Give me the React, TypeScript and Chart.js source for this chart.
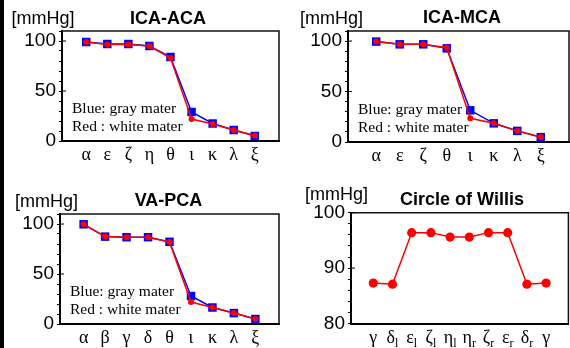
import React, { useEffect, useRef } from 'react';
import { Chart, registerables } from 'chart.js';

Chart.register(...registerables);

// ---------- data ----------
const acaLabels = ['α', 'ε', 'ζ', 'η', 'θ', 'ι', 'κ', 'λ', 'ξ'];
const acaGray = [99, 97, 97, 95, 84, 29, 17.5, 11, 5];
const acaWhite = [99, 96.5, 96.5, 95, 83, 22, 17, 11, 5.5];

const mcaLabels = ['α', 'ε', 'ζ', 'θ', 'ι', 'κ', 'λ', 'ξ'];
const mcaGray = [99.5, 96.8, 96.8, 92.8, 31.4, 18.5, 11, 4.8];
const mcaWhite = [99.5, 96.8, 96.8, 93.5, 23.5, 18.5, 11, 5];

const pcaLabels = ['α', 'β', 'γ', 'δ', 'θ', 'ι', 'κ', 'λ', 'ξ'];
const pcaGray = [99.7, 87.4, 86.8, 86.8, 82.2, 28, 16.5, 10.9, 5];
const pcaWhite = [99.7, 87.4, 86.8, 86.8, 82, 22, 16.5, 10.9, 5];

const willisLabels = ['γ', 'δ_l', 'ε_l', 'ζ_l', 'η_l', 'η_r', 'ζ_r', 'ε_r', 'δ_r', 'γ'];
const willisValues = [87.3, 87.1, 96.4, 96.4, 95.6, 95.6, 96.4, 96.4, 87.1, 87.3];

const pressureMajorTicks = [0, 50, 100];
const willisMajorTicks = [80, 90, 100];

const legendLines = ['Blue: gray mater', 'Red : white mater'];

const SANS = '"Liberation Sans", Arial, sans-serif';
const SERIF = '"Liberation Serif", "Times New Roman", serif';

type PanelCfg = {
  left: number; top: number; width: number; height: number;
  yw: number; xh: number; padTop: number; padRight: number;
  xMin: number; xMax: number; yMin: number; yMax: number; yStep: number;
  majors: number[];
  labels: string[];
  series: { values: number[]; kind: 'gray' | 'white' | 'willis' }[];
  title: string; titleX: number; titleY: number;
  unitX: number; unitY: number;
  legend: boolean;
  subscriptLabels: boolean;
};

const toPoints = (vals: number[]) => vals.map((v, i) => ({ x: i, y: v }));

function Panel({ cfg }: { cfg: PanelCfg }) {
  const ref = useRef<HTMLCanvasElement | null>(null);
  useEffect(() => {
    if (!ref.current) return;
    const datasets: any[] = [];
    // red drawn on top -> put first
    const ordered = [...cfg.series].sort((a, b) => (a.kind === 'gray' ? 1 : 0) - (b.kind === 'gray' ? 1 : 0));
    ordered.forEach((s) => {
      if (s.kind === 'gray') {
        datasets.push({
          data: toPoints(s.values), borderColor: '#0000ff', backgroundColor: '#0000ff',
          borderWidth: 1.5, pointStyle: 'rect', pointRadius: 6, pointBorderWidth: 0, tension: 0,
        });
      } else if (s.kind === 'white') {
        datasets.push({
          data: toPoints(s.values), borderColor: '#ff0000', backgroundColor: '#ff0000',
          borderWidth: 1.5, pointStyle: 'circle', pointRadius: 3, pointBorderWidth: 0, tension: 0,
        });
      } else {
        datasets.push({
          data: toPoints(s.values), borderColor: '#ff0000', backgroundColor: '#ff0000',
          borderWidth: 1.5, pointStyle: 'circle', pointRadius: 4.6, pointBorderWidth: 0, tension: 0,
        });
      }
    });

    const decor = {
      id: 'decor',
      afterDraw(chart: any) {
        const ctx = chart.ctx;
        const a = chart.chartArea;
        const ys = chart.scales.y;
        const xs = chart.scales.x;
        ctx.save();
        // top & right frame
        ctx.strokeStyle = '#111';
        ctx.lineWidth = 1.5;
        ctx.beginPath();
        ctx.moveTo(a.left, a.top);
        ctx.lineTo(a.right, a.top);
        ctx.lineTo(a.right, a.bottom);
        ctx.stroke();
        // inward part of major ticks
        ctx.lineWidth = 1;
        ctx.strokeStyle = '#000';
        cfg.majors.forEach((m) => {
          const py = ys.getPixelForValue(m);
          ctx.beginPath();
          ctx.moveTo(a.left, py);
          ctx.lineTo(a.left + 4, py);
          ctx.stroke();
        });
        // unit label and title
        ctx.fillStyle = '#000';
        ctx.textBaseline = 'alphabetic';
        ctx.textAlign = 'left';
        ctx.font = `18px ${SANS}`;
        ctx.fillText('[mmHg]', cfg.unitX, cfg.unitY);
        ctx.textAlign = 'center';
        ctx.font = `bold 18px ${SANS}`;
        ctx.fillText(cfg.title, cfg.titleX, cfg.titleY);
        // legend text
        if (cfg.legend) {
          ctx.textAlign = 'left';
          ctx.font = `15.5px ${SERIF}`;
          ctx.fillText(legendLines[0], a.left + 10, a.bottom - 28);
          ctx.fillText(legendLines[1], a.left + 10, a.bottom - 10);
        }
        // subscripted category labels
        if (cfg.subscriptLabels) {
          cfg.labels.forEach((lab, i) => {
            const [main, sub] = lab.split('_');
            const px = xs.getPixelForValue(i);
            ctx.font = `18px ${SERIF}`;
            const wMain = ctx.measureText(main).width;
            ctx.font = `12px ${SERIF}`;
            const wSub = sub ? ctx.measureText(sub).width : 0;
            const start = px - (wMain + wSub) / 2;
            ctx.textAlign = 'left';
            ctx.font = `18px ${SERIF}`;
            ctx.fillText(main, start, a.bottom + 19);
            if (sub) {
              ctx.font = `12px ${SERIF}`;
              ctx.fillText(sub, start + wMain, a.bottom + 23);
            }
          });
        }
        ctx.restore();
      },
    };

    const chart = new Chart(ref.current, {
      type: 'line',
      data: { datasets },
      plugins: [decor],
      options: {
        animation: false,
        responsive: false,
        maintainAspectRatio: false,
        devicePixelRatio: 1,
        layout: { padding: { top: cfg.padTop, right: cfg.padRight, left: 0, bottom: 0 } },
        plugins: { legend: { display: false }, title: { display: false }, tooltip: { enabled: false } },
        scales: {
          x: {
            type: 'linear',
            min: cfg.xMin,
            max: cfg.xMax,
            afterBuildTicks: (s: any) => { s.ticks = cfg.labels.map((_, i) => ({ value: i })); },
            afterFit: (s: any) => { s.height = cfg.xh; },
            ticks: {
              display: true,
              autoSkip: false,
              maxRotation: 0,
              padding: 3,
              color: cfg.subscriptLabels ? 'rgba(0,0,0,0)' : '#000',
              font: { family: SERIF, size: 18 },
              callback: (v: any) => cfg.labels[v as number] ?? '',
            },
            grid: { display: true, drawOnChartArea: false, drawTicks: false },
            border: { display: true, color: '#000', width: 2 },
          },
          y: {
            type: 'linear',
            min: cfg.yMin,
            max: cfg.yMax,
            afterFit: (s: any) => { s.width = cfg.yw; },
            ticks: {
              stepSize: cfg.yStep,
              autoSkip: false,
              padding: 3,
              color: '#000',
              font: { family: SANS, size: 19 },
              callback: (v: any) => (cfg.majors.includes(v as number) ? String(v) : ''),
            },
            grid: {
              display: true, drawOnChartArea: false, drawTicks: true, tickLength: 3,
              tickColor: '#000', tickWidth: 1,
            },
            border: { display: true, color: '#000', width: 2 },
          },
        },
      },
    } as any);
    return () => chart.destroy();
  }, [cfg]);
  return (
    <canvas
      ref={ref}
      width={cfg.width}
      height={cfg.height}
      style={{ position: 'absolute', left: cfg.left, top: cfg.top, width: cfg.width, height: cfg.height }}
    />
  );
}

const panels: PanelCfg[] = [
  {
    left: 0, top: 0, width: 285, height: 174, yw: 62, xh: 33, padTop: 31, padRight: 1,
    xMin: -1.15, xMax: 9.15, yMin: 0, yMax: 110, yStep: 10, majors: pressureMajorTicks,
    labels: acaLabels, series: [{ values: acaGray, kind: 'gray' }, { values: acaWhite, kind: 'white' }],
    title: 'ICA-ACA', titleX: 168, titleY: 23.5, unitX: 11.5, unitY: 24, legend: true, subscriptLabels: false,
  },
  {
    left: 285, top: 0, width: 290, height: 174, yw: 63, xh: 32, padTop: 31, padRight: 1,
    xMin: -1.2, xMax: 8.2, yMin: 0, yMax: 110, yStep: 10, majors: pressureMajorTicks,
    labels: mcaLabels, series: [{ values: mcaGray, kind: 'gray' }, { values: mcaWhite, kind: 'white' }],
    title: 'ICA-MCA', titleX: 177, titleY: 23, unitX: 15, unitY: 23.5, legend: true, subscriptLabels: false,
  },
  {
    left: 0, top: 174, width: 285, height: 174, yw: 60, xh: 24, padTop: 40, padRight: 6,
    xMin: -1.1, xMax: 9.1, yMin: 0, yMax: 110, yStep: 10, majors: pressureMajorTicks,
    labels: pcaLabels, series: [{ values: pcaGray, kind: 'gray' }, { values: pcaWhite, kind: 'white' }],
    title: 'VA-PCA', titleX: 168.5, titleY: 32, unitX: 15, unitY: 32.5, legend: true, subscriptLabels: false,
  },
  {
    left: 285, top: 174, width: 288, height: 174, yw: 66, xh: 24.5, padTop: 38.7, padRight: 1.7,
    xMin: -1.16, xMax: 10.16, yMin: 80, yMax: 100, yStep: 2, majors: willisMajorTicks,
    labels: willisLabels, series: [{ values: willisValues, kind: 'willis' }],
    title: 'Circle of Willis', titleX: 177, titleY: 31, unitX: 20, unitY: 26, legend: false, subscriptLabels: true,
  },
];

export default function App() {
  return (
    <div style={{ position: 'absolute', left: 0, top: 0, width: 570, height: 348, overflow: 'hidden', background: '#fff' }}>
      {panels.map((p, i) => <Panel key={i} cfg={p} />)}
      <div style={{ position: 'absolute', left: 0, top: 0, width: 4, height: 348, background: '#000' }} />
    </div>
  );
}
